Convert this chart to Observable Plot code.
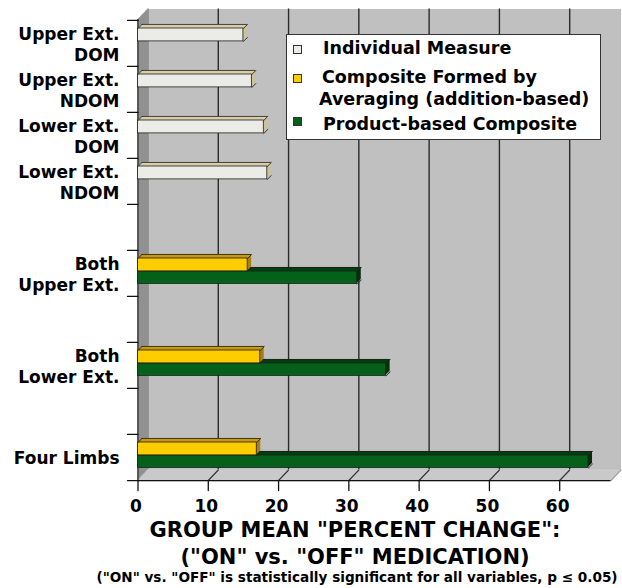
<!DOCTYPE html>
<html>
<head>
<meta charset="utf-8">
<script src="https://cdn.jsdelivr.net/npm/d3@7"></script>
<script src="https://cdn.jsdelivr.net/npm/@observablehq/plot@0.6"></script>
<style>
  html, body { margin: 0; padding: 0; background: #fff; }
  #wrap { position: relative; width: 622px; height: 588px; overflow: hidden; font-family: "DejaVu Sans", sans-serif; font-weight: bold; color: #000; }
  #chart { position: absolute; left: 0; top: 0; }
  .legend { position: absolute; left: 286px; top: 34px; width: 313px; height: 104px; background: #fff; border: 1.5px solid #333; }
  .sw { position: absolute; width: 7px; height: 7px; border: 1px solid #333; }
  .lt { position: absolute; font-size: 17.5px; line-height: 20px; white-space: nowrap; }
  .title { position: absolute; white-space: nowrap; transform: translateX(-50%); }
</style>
</head>
<body>
<div id="wrap">
  <div id="chart"></div>
  <div class="legend" id="legend"></div>
  <div class="title" style="left:355px; top:518px; font-size:21px; line-height:24px;" id="t1"></div>
  <div class="title" style="left:355px; top:545px; font-size:21px; line-height:24px;" id="t2"></div>
  <div class="title" style="left:357px; top:569px; font-size:13.6px; line-height:16px;" id="t3"></div>
</div>
<script>
// ---------- data ----------
const categories = ["Upper Ext.\nDOM", "Upper Ext.\nNDOM", "Lower Ext.\nDOM", "Lower Ext.\nNDOM", "gap-a",
                    "Both\nUpper Ext.", "gap-b", "Both\nLower Ext.", "gap-c", "Four Limbs"];
const individualCats = ["Upper Ext.\nDOM", "Upper Ext.\nNDOM", "Lower Ext.\nDOM", "Lower Ext.\nNDOM"];
const individualValues = [15.0, 16.2, 17.9, 18.4];
const compositeCats = ["Both\nUpper Ext.", "Both\nLower Ext.", "Four Limbs"];
const averagingValues = [15.6, 17.4, 16.9];
const productValues = [31.2, 35.3, 64.1];
const xTicks = [0, 10, 20, 30, 40, 50, 60];
const xGrid = [10, 20, 30, 40, 50, 60];
const xMax = 67.3;

const seriesNames = ["Individual Measure", "Composite Formed by\nAveraging (addition-based)", "Product-based Composite"];
const titleLines = ["GROUP MEAN \"PERCENT CHANGE\":", "(\"ON\" vs. \"OFF\" MEDICATION)"];
const footnote = "(\"ON\" vs. \"OFF\" is statistically significant for all variables, p \u2264 0.05)";

const colors = {
  individual: {front: "#ebebe7", top: "#d8cea9", side: "#cbc19d"},
  averaging: {front: "#ffcc00", top: "#cc9c08", side: "#a88210"},
  product: {front: "#05601a", top: "#024010", side: "#01300a"}
};

// ---------- tables ----------
const individualData = individualCats.map((c, i) => ({c, v: individualValues[i]}));
const averagingData = compositeCats.map((c, i) => ({c, v: averagingValues[i]}));
const productData = compositeCats.map((c, i) => ({c, v: productValues[i]}));

// ---------- geometry ----------
const W = 622, H = 512, mTop = 19, mBottom = 32, mLeft = 137.5, mRight = 11.5;
const BW = (H - mBottom - mTop) / categories.length;
const D = 4;            // bar depth
const WX = 10, WY = 10.5; // wall depth
const slot1 = [8, 21], slot2 = [21, 33.5];
const edge = "#1e1e1e";
const lineShape = {draw(context, l) { context.moveTo(0, 0); context.lineTo(0, -l); }};

function bar3d(data, slot, col) {
  const [t, b] = slot;
  const m = [];
  const base = {x: "v", y: "c"};
  for (let i = D; i >= 1; i--)
    m.push(Plot.barX(data, {...base, insetTop: t, insetBottom: BW - b, dx: i, dy: -i, fill: col.side}));
  for (let i = D; i >= 1; i--)
    m.push(Plot.barX(data, {...base, insetTop: t, insetBottom: BW - t - 1, dx: i, dy: -i, fill: col.top}));
  m.push(Plot.barX(data, {...base, insetTop: t, insetBottom: BW - b, fill: col.front, stroke: edge, strokeWidth: 0.8}));
  m.push(Plot.ruleY(data, {y: "c", x1: 0, x2: "v", dx: D, dy: -BW / 2 + t - D, stroke: edge, strokeWidth: 0.8}));
  m.push(Plot.ruleX(data, {x: "v", y: "c", insetTop: t, insetBottom: BW - b, dx: D, dy: -D, stroke: edge, strokeWidth: 0.8}));
  m.push(Plot.vector(data, {x: "v", y: "c", dy: -BW / 2 + t, rotate: 45, length: D * Math.SQRT2, anchor: "start", shape: lineShape, stroke: edge, strokeWidth: 0.8}));
  m.push(Plot.vector(data, {x: "v", y: "c", dy: -BW / 2 + b, rotate: 45, length: D * Math.SQRT2, anchor: "start", shape: lineShape, stroke: edge, strokeWidth: 0.8}));
  m.push(Plot.vector(data, {x: () => 0, y: "c", dy: -BW / 2 + t, rotate: 45, length: D * Math.SQRT2, anchor: "start", shape: lineShape, stroke: edge, strokeWidth: 0.8}));
  return m;
}

const wallCopies = d3.range(0, WX + 1).map(i =>
  Plot.ruleX([0], {x: d => d, dx: i, dy: -i * WY / WX, stroke: "#8c8c8c", strokeWidth: 1.6}));
const lastCat = categories[categories.length - 1];
const floorCopies = d3.range(0, WX + 1).map(i =>
  Plot.ruleY([lastCat], {y: d => d, dx: i, dy: BW / 2 - i * WY / WX, stroke: "#c9c9c9", strokeWidth: 1.6}));
const wallAngle = Math.atan2(WX, WY) * 180 / Math.PI;
const wallLen = Math.hypot(WX, WY);

const chart = Plot.plot({
  width: W, height: H,
  marginTop: mTop, marginBottom: mBottom, marginLeft: mLeft, marginRight: mRight,
  style: {fontFamily: "DejaVu Sans", background: "transparent", overflow: "visible"},
  x: {domain: [0, xMax], axis: null},
  y: {type: "band", domain: categories, padding: 0, axis: null},
  marks: [
    Plot.frame({fill: "#c0c0c0", dx: WX, dy: -WY}),
    Plot.ruleX(xGrid, {x: d => d, dx: WX, dy: -WY, stroke: "#2b2b2b", strokeWidth: 1.4}),
    ...wallCopies,
    ...floorCopies,
    Plot.vector(xGrid, {x: d => d, frameAnchor: "bottom", rotate: wallAngle, length: wallLen, anchor: "start", shape: lineShape, stroke: "#333", strokeWidth: 1.1}),
    Plot.vector([xMax], {x: d => d, frameAnchor: "bottom", rotate: wallAngle, length: wallLen, anchor: "start", shape: lineShape, stroke: "#a0a0a0", strokeWidth: 1.1}),
    Plot.ruleY([lastCat], {y: d => d, dy: BW / 2, stroke: "#111", strokeWidth: 1.3}),
    Plot.ruleX([0], {x: d => d, stroke: "#333", strokeWidth: 1.3}),
    Plot.vector(xTicks, {x: d => d, frameAnchor: "bottom", rotate: 180, length: 10, anchor: "start", shape: lineShape, stroke: "#111", strokeWidth: 1.3}),
    Plot.vector(categories, {y: d => d, frameAnchor: "left", dy: -BW / 2, rotate: -90, length: 10.5, anchor: "start", shape: lineShape, stroke: "#111", strokeWidth: 1.3}),
    Plot.vector([lastCat], {y: d => d, frameAnchor: "left", dy: BW / 2, rotate: -90, length: 10.5, anchor: "start", shape: lineShape, stroke: "#111", strokeWidth: 1.3}),
    ...bar3d(productData, slot2, colors.product),
    ...bar3d(averagingData, slot1, colors.averaging),
    ...bar3d(individualData, slot1, colors.individual),
    Plot.text(categories.filter(c => !c.startsWith("gap")), {y: d => d, text: d => d, frameAnchor: "left", textAnchor: "end", dx: -18.5, fontSize: 17, fontWeight: "bold", lineHeight: 1.24}),
    Plot.text(xTicks, {x: d => d, text: d => String(d), frameAnchor: "bottom", lineAnchor: "middle", dy: 26, dx: -2, fontSize: 17, fontWeight: "bold"})
  ]
});
document.getElementById("chart").appendChild(chart);

// ---------- legend ----------
const legend = document.getElementById("legend");
const swColors = [colors.individual.front, colors.averaging.front, colors.product.front];
const swTops = [10, 39, 82];
const txtPos = [{left: 36, top: 3}, {left: 35, top: 32}, {left: 36, top: 79}];
seriesNames.forEach((name, i) => {
  const sw = document.createElement("div");
  sw.className = "sw";
  sw.style.left = "6px"; sw.style.top = swTops[i] + "px"; sw.style.background = swColors[i];
  legend.appendChild(sw);
  const lines = name.split("\n");
  lines.forEach((ln, k) => {
    const t = document.createElement("div");
    t.className = "lt";
    t.textContent = ln;
    t.style.left = (txtPos[i].left - (k > 0 ? 3 : 0)) + "px";
    t.style.top = (txtPos[i].top + k * 21.5) + "px";
    legend.appendChild(t);
  });
});
document.getElementById("t1").textContent = titleLines[0];
document.getElementById("t2").textContent = titleLines[1];
document.getElementById("t3").textContent = footnote;
</script>
</body>
</html>
